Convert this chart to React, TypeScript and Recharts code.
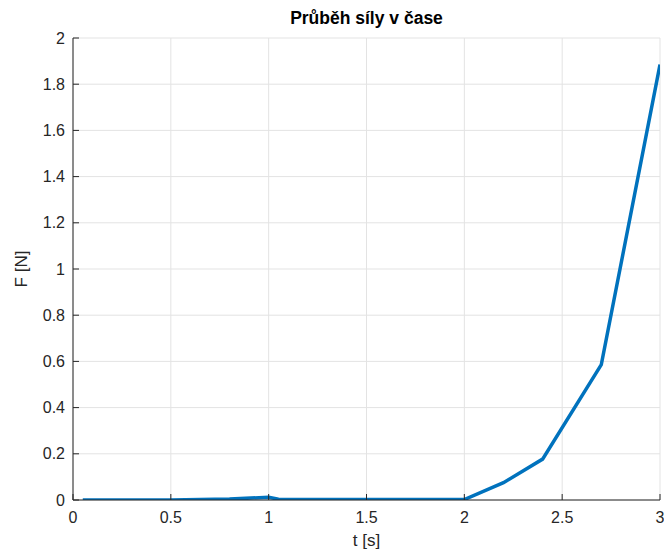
import { LineChart, Line, XAxis, YAxis, CartesianGrid } from 'recharts'

// time [s]
const times = [0.05, 0.5, 0.8, 1.0, 1.05, 1.5, 2.0, 2.2, 2.4, 2.7, 3.0]
// force [N]
const forces = [0.0, 0.0, 0.004, 0.012, 0.003, 0.002, 0.002, 0.075, 0.177, 0.586, 1.885]

const xTicks = [0, 0.5, 1, 1.5, 2, 2.5, 3]
const yTicks = [0, 0.2, 0.4, 0.6, 0.8, 1, 1.2, 1.4, 1.6, 1.8, 2]

const data = times.map((t, i) => ({ t, F: forces[i] }))

const FONT = '"Liberation Sans", Arial, Helvetica, sans-serif'
const AXIS = '#262626'

export default function App() {
  return (
    <div style={{ position: 'absolute', left: 0, top: 0, width: 664, height: 556, background: '#fff', fontFamily: FONT }}>
      <div style={{ position: 'absolute', left: 73, width: 587, top: 8, textAlign: 'center', fontWeight: 'bold', fontSize: 17.5, color: '#000' }}>
        Průběh síly v čase
      </div>
      <div style={{ position: 'absolute', left: 73, width: 587, top: 531, textAlign: 'center', fontSize: 17, color: AXIS }}>
        t [s]
      </div>
      <div style={{ position: 'absolute', left: 22, top: 269, transform: 'translate(-50%, -50%) rotate(-90deg)', fontSize: 17, color: AXIS, whiteSpace: 'nowrap' }}>
        F [N]
      </div>
      <LineChart width={664} height={556} data={data} margin={{ top: 38, right: 4, bottom: 0, left: 0 }}>
        <CartesianGrid stroke="#e3e3e3" strokeWidth={1} xAxisId="b" yAxisId="l" />
        <XAxis
          xAxisId="b"
          dataKey="t"
          type="number"
          domain={[0, 3]}
          ticks={xTicks}
          height={56}
          stroke={AXIS}
          tickSize={-6}
          tickMargin={18}
          tick={{ fill: AXIS, fontSize: 16, fontFamily: FONT }}
          allowDataOverflow
        />
        <XAxis
          xAxisId="t"
          dataKey="t"
          type="number"
          orientation="top"
          domain={[0, 3]}
          ticks={xTicks}
          height={0}
          stroke={AXIS}
          tickSize={-6}
          tick={false}
        />
        <YAxis
          yAxisId="l"
          type="number"
          domain={[0, 2]}
          ticks={yTicks}
          width={73}
          stroke={AXIS}
          tickSize={-6}
          tickMargin={14}
          tick={{ fill: AXIS, fontSize: 16, fontFamily: FONT }}
          allowDataOverflow
        />
        <YAxis
          yAxisId="r"
          type="number"
          orientation="right"
          domain={[0, 2]}
          ticks={yTicks}
          width={0}
          stroke={AXIS}
          tickSize={-6}
          tick={false}
        />
        <Line
          xAxisId="b"
          yAxisId="l"
          type="linear"
          dataKey="F"
          stroke="#0072BD"
          strokeWidth={3.5}
          dot={false}
          isAnimationActive={false}
        />
      </LineChart>
    </div>
  )
}
